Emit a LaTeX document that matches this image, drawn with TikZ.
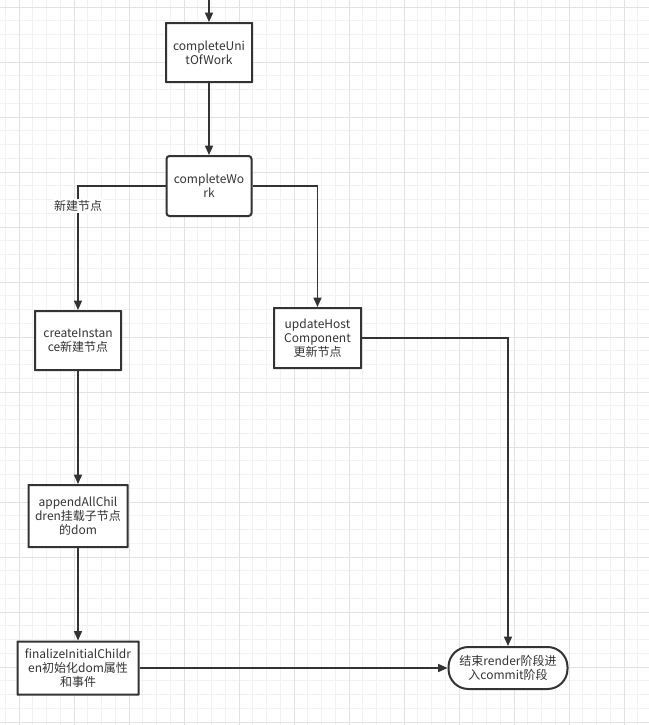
\documentclass[tikz,border=0pt]{standalone}
\usepackage{fontspec}
\setmainfont{Noto Sans CJK SC}
\usetikzlibrary{arrows.meta}
\definecolor{ink}{HTML}{333333}
\definecolor{gridmin}{HTML}{F2F2F2}
\definecolor{gridmaj}{HTML}{E2E2E2}
\tikzstyle{box}=[draw=ink,line width=1.5pt,fill=white,align=center,inner sep=0pt,text=ink,font=\fontsize{9}{10.5}\selectfont]
\tikzstyle{edge} = [draw=ink,line width=1.1pt,-{Triangle[width=6pt,length=7pt]}]
\tikzstyle{lbl}=[fill=white,inner sep=1pt,text=ink,font=\fontsize{9}{10.5}\selectfont]

\begin{document}
\begin{tikzpicture}[x=0.75pt,y=-0.75pt]
    \fill[white] (0,0) rectangle (649,725);
    \useasboundingbox (0,0) rectangle (649,725);
    % grille
    \foreach \i in {0,...,46}
        \draw[gridmin,line width=0.75pt] ({5.25+13.75*\i},0) -- ({5.25+13.75*\i},725);
    \foreach \i in {0,...,52}
        \draw[gridmin,line width=0.75pt] (0,{7+13.75*\i}) -- (649,{7+13.75*\i});
    \foreach \i in {0,...,11}
        \draw[gridmaj,line width=0.75pt] ({19+55*\i},0) -- ({19+55*\i},725);
    \foreach \i in {0,...,13}
        \draw[gridmaj,line width=0.75pt] (0,{7+55*\i}) -- (649,{7+55*\i});
    % boites
    \foreach \pos/\name/\w/\h/\r/\txt in {{(209,52.5)/cuow/86/59/0.01/{completeUni\\tOfWork}},
        {(209,186)/cw/85/60/3/{completeWo\\rk}},
        {(78,340.5)/ci/86/59/0.01/{createInstan\\ce新建节点}},
        {(317.5,338)/uhc/87/60/0.01/{updateHost\\Component\\更新节点}},
        {(78,516)/aac/99/62/0.01/{appendAllChil\\dren挂载子节点\\的dom}},
        {(78,668)/fic/121/53/0.01/{finalizeInitialChildr\\en初始化dom属性\\和事件}},
        {(508,668)/fin/119/42/20/{结束render阶段进\\入commit阶段}}}
        \node[box,rounded corners=\r*0.75pt,minimum width=\w*0.75pt,minimum height=\h*0.75pt] (\name) at \pos {\txt};
    \coordinate (top) at (209,0);
    % fleches
    \foreach \source/\dest in {top/cuow, cuow/cw, ci/aac, aac/fic, fic/fin}
        \path[edge] (\source) -- (\dest);
    \path[edge] (cw.west) -| node[lbl,pos=0.58] {新建节点} (ci.north);
    \path[edge] (cw.east) -| (uhc.north);
    \path[edge] (uhc.east) -| (fin.north);
\end{tikzpicture}
\end{document}
